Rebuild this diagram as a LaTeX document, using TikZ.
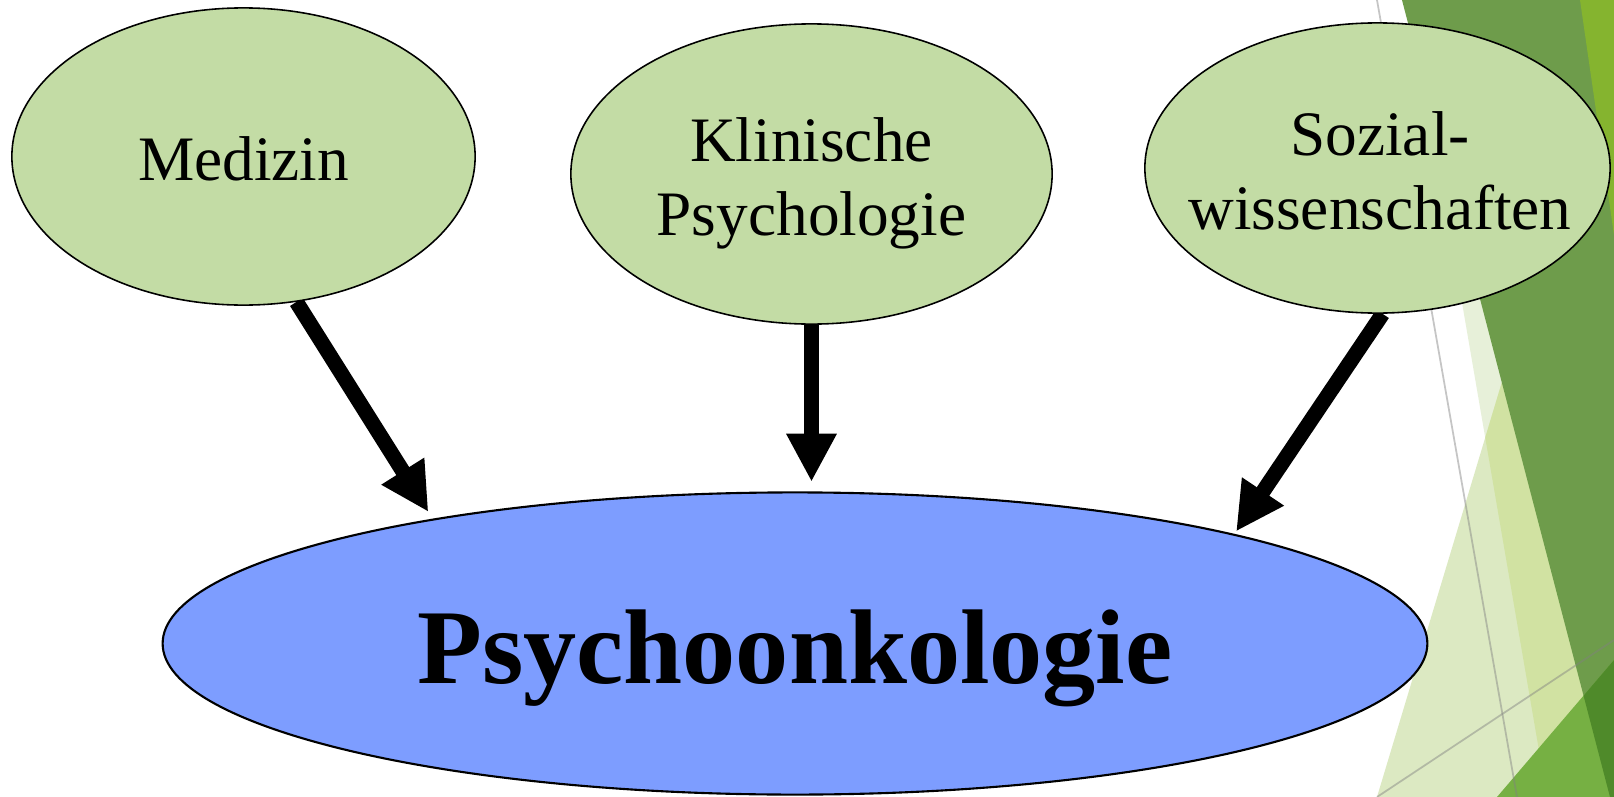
\documentclass[tikz,border=0pt]{standalone}
\usepackage{fontspec}
\setmainfont{Liberation Serif}
\usetikzlibrary{arrows.meta, shapes.geometric, backgrounds}

\definecolor{fieldgreen}{HTML}{C3DCA5}
\definecolor{coreblue}{HTML}{7D9DFF}
\definecolor{facetdark}{HTML}{6E9C4B}
\definecolor{facetbright}{HTML}{85B42F}
\definecolor{facetmid}{HTML}{76B043}
\definecolor{facetdeep}{HTML}{4F8A2A}
\definecolor{facetlight}{HTML}{DCE9C2}
\definecolor{facetpale}{HTML}{E7F0D9}
\definecolor{facetmix}{HTML}{D1E2A2}

\newcommand{\fieldfont}{\fontsize{18pt}{21.3pt}\selectfont}
\newcommand{\corefont}{\fontsize{30.2pt}{36pt}\selectfont\bfseries}

\begin{document}
\begin{tikzpicture}[
    x=0.01cm, y=-0.01cm,
    field/.style     = {draw, ellipse, fill=fieldgreen, line width=0.45pt,
                        inner sep=0pt},
    core/.style      = {draw, ellipse, fill=coreblue, line width=0.6pt,
                        inner sep=0pt, minimum width=12.64cm, minimum height=3.02cm},
    fieldtext/.style = {anchor=base, inner sep=0pt, font=\fieldfont},
    coretext/.style  = {anchor=base, inner sep=0pt, font=\corefont},
    arr/.style       = {-{Triangle[length=13.7pt, width=13.4pt]}, line width=4.3pt},
    rule/.style      = {draw=gray, line width=0.5pt, opacity=0.45},
  ]
  \useasboundingbox (0,0) rectangle (1614,797);

  % the three fields and the core
  \node[field, minimum width=4.63cm, minimum height=2.97cm] (med) at (243.5,156.5) {};
  \node[field, minimum width=4.81cm, minimum height=3.00cm] (kp)  at (811.5,174) {};
  \node[field, minimum width=4.65cm, minimum height=2.90cm] (soz) at (1377.5,168) {};
  \node[core] (psy) at (795,643.5) {};

  \node[fieldtext] (medtxt) at (243.5,180) {Medizin};
  \node[fieldtext] (kptxt) at (811.5,161)
    {\begin{tabular}[t]{@{}c@{}}Klinische\\Psychologie\end{tabular}};
  \node[fieldtext] (soztxt) at (1380,155)
    {\begin{tabular}[t]{@{}c@{}}Sozial-\\wissenschaften\end{tabular}};
  \node[coretext] (psytxt) at (795,683) {Psychoonkologie};

  \begin{scope}[on background layer]
    \fill[white] (0,0) rectangle (1614,797);
    % facets on the right
    \fill[facetpale] (1410,0) -- (1547,797) -- (1614,797) -- (1614,0) -- cycle;
    \fill[facetlight] (1377,797) -- (1614,10) -- (1614,797) -- cycle;
    \begin{scope}
      \clip (1410,0) -- (1547,797) -- (1614,797) -- (1614,0) -- cycle;
      \fill[facetmix] (1377,797) -- (1614,10) -- (1614,797) -- cycle;
    \end{scope}
    \fill[facetdark] (1402,0) -- (1614,0) -- (1614,797) -- (1610,797) -- cycle;
    \fill[facetbright] (1580,0) -- (1614,0) -- (1614,235) -- cycle;
    \fill[facetmid] (1497,797) -- (1614,660) -- (1614,797) -- cycle;
    \begin{scope}
      \clip (1402,0) -- (1614,0) -- (1614,797) -- (1610,797) -- cycle;
      \fill[facetdeep] (1497,797) -- (1614,660) -- (1614,797) -- cycle;
    \end{scope}
    \draw[rule] (1377,0) -- (1517,797);
    \draw[rule] (1377,797) -- (1614,640);

    % arrows into the core
    \draw[arr, shorten >=0.08cm] (med.-70) -- (psy.161);
    \draw[arr, shorten >=0.095cm] (kp.south) -- (kp.south |- psy.north);
    \draw[arr, shorten >=0.03cm] (soz.-88) -- (psy.14);
  \end{scope}
\end{tikzpicture}
\end{document}
